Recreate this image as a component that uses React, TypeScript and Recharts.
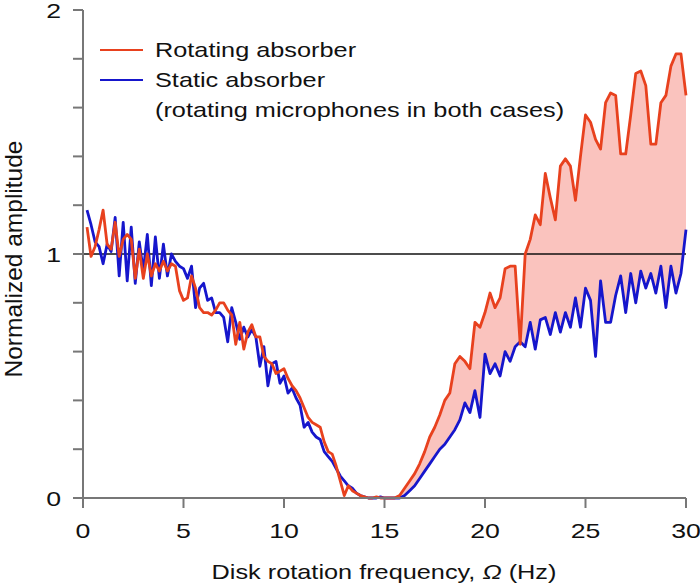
import React from "react";
import { ComposedChart, Line, Area, XAxis, YAxis, ReferenceLine } from "recharts";

// Disk rotation frequency (Hz)
const freq: number[] = [
  0.2, 0.4, 0.6, 0.8, 1.0, 1.2, 1.4, 1.6, 1.8, 2.0, 2.2, 2.4, 2.6, 2.8, 3.0, 3.2, 3.4, 3.6, 3.8, 4.0,
  4.2, 4.4, 4.6, 4.8, 5.0, 5.2, 5.4, 5.6, 5.8, 6.0, 6.2, 6.4, 6.6, 6.8, 7.0, 7.2, 7.4, 7.6, 7.8, 8.0,
  8.2, 8.4, 8.6, 8.8, 9.0, 9.2, 9.4, 9.6, 9.8, 10.0, 10.2, 10.4, 10.6, 10.8, 11.0, 11.2, 11.4, 11.6, 11.8, 12.0,
  12.2, 12.4, 12.6, 12.8, 13.0, 13.2, 13.4, 13.6, 13.8, 14.0, 14.2, 14.4, 14.6, 14.8, 15.0,
  15.25, 15.5, 15.75, 16.0, 16.25, 16.5, 16.75, 17.0, 17.25, 17.5, 17.75, 18.0, 18.25, 18.5, 18.75, 19.0,
  19.25, 19.5, 19.75, 20.0, 20.25, 20.5, 20.75, 21.0, 21.25, 21.5, 21.75, 22.0, 22.25, 22.5, 22.75, 23.0,
  23.25, 23.5, 23.75, 24.0, 24.25, 24.5, 24.75, 25.0, 25.25, 25.5, 25.75, 26.0, 26.25, 26.5, 26.75, 27.0,
  27.25, 27.5, 27.75, 28.0, 28.25, 28.5, 28.75, 29.0, 29.25, 29.5, 29.75, 30.0,
];

// Rotating absorber (red)
const rotating: number[] = [
  1.11, 0.99, 1.03, 1.10, 1.18, 1.04, 1.02, 1.13, 0.99, 1.06, 1.08, 1.06, 0.90, 1.02, 0.90, 1.00, 0.91, 0.96, 0.93, 0.97,
  0.93, 0.96, 0.95, 0.85, 0.81, 0.82, 0.91, 0.86, 0.78, 0.76, 0.76, 0.75, 0.77, 0.80, 0.80, 0.77, 0.75, 0.63, 0.72, 0.61,
  0.68, 0.71, 0.66, 0.66, 0.58, 0.56, 0.55, 0.51, 0.52, 0.53, 0.49, 0.46, 0.44, 0.41, 0.37, 0.33, 0.31, 0.30, 0.29, 0.23,
  0.19, 0.18, 0.13, 0.07, 0.01, 0.05, 0.03, 0.02, 0.01, 0.005, 0.0, 0.0, 0.005, 0.0, 0.0,
  0.0, 0.0, 0.01, 0.04, 0.07, 0.10, 0.14, 0.19, 0.25, 0.29, 0.34, 0.40, 0.43, 0.55, 0.58, 0.56,
  0.53, 0.72, 0.70, 0.76, 0.84, 0.78, 0.82, 0.94, 0.95, 0.95, 0.63, 1.00, 1.06, 1.16, 1.12, 1.33,
  1.23, 1.14, 1.36, 1.39, 1.36, 1.22, 1.40, 1.57, 1.54, 1.47, 1.43, 1.62, 1.66, 1.65, 1.41, 1.41,
  1.57, 1.74, 1.75, 1.69, 1.45, 1.45, 1.62, 1.65, 1.77, 1.82, 1.82, 1.65,
];

// Static absorber (blue)
const staticAbs: number[] = [
  1.18, 1.12, 1.05, 1.03, 0.96, 1.04, 1.01, 1.15, 0.91, 1.13, 0.89, 1.11, 0.88, 1.05, 0.93, 1.08, 0.87, 1.07, 0.90, 1.04,
  0.91, 1.00, 0.97, 0.95, 0.94, 0.90, 0.95, 0.78, 0.86, 0.88, 0.81, 0.82, 0.76, 0.76, 0.74, 0.64, 0.78, 0.72, 0.65, 0.70,
  0.66, 0.69, 0.66, 0.54, 0.62, 0.46, 0.55, 0.56, 0.47, 0.50, 0.43, 0.45, 0.41, 0.38, 0.29, 0.31, 0.27, 0.25, 0.24, 0.19,
  0.17, 0.15, 0.12, 0.09, 0.07, 0.05, 0.04, 0.02, 0.01, 0.005, 0.0, 0.0, 0.0, 0.005, 0.0,
  0.0, 0.0, 0.0, 0.01, 0.03, 0.05, 0.08, 0.11, 0.14, 0.17, 0.20, 0.22, 0.25, 0.28, 0.32, 0.39,
  0.35, 0.44, 0.33, 0.59, 0.51, 0.55, 0.50, 0.60, 0.56, 0.62, 0.64, 0.62, 0.72, 0.61, 0.73, 0.74,
  0.67, 0.76, 0.68, 0.76, 0.70, 0.82, 0.70, 0.86, 0.81, 0.58, 0.89, 0.72, 0.72, 0.83, 0.91, 0.76,
  0.92, 0.80, 0.93, 0.86, 0.92, 0.84, 0.95, 0.78, 0.95, 0.84, 0.92, 1.10,
];

const xTicks: number[] = [0, 5, 10, 15, 20, 25, 30];
const yTicks: number[] = [0, 0.2, 0.4, 0.6, 0.8, 1.0, 1.2, 1.4, 1.6, 1.8, 2.0];
const yLabels: number[] = [0, 1, 2];
const bandStart = 15.5;

const RED = "#e8411e";
const BLUE = "#1616cc";
const PINK = "#fac3be";
const AXIS = "#777777";
const FONT = "'Liberation Sans', Arial, Helvetica, sans-serif";
const SX = 1.27;

const data = freq.map((x, i) => ({
  x,
  r: rotating[i],
  s: staticAbs[i],
  band: x >= bandStart ? [staticAbs[i], rotating[i]] : null,
}));

const XTick = (props: any) => {
  const { x, y, payload } = props;
  return (
    <text
      transform={`translate(${x},${y + 28}) scale(${SX},1)`}
      textAnchor="middle"
      fontSize={21}
      fontFamily={FONT}
      fill="#111"
    >
      {payload.value}
    </text>
  );
};

const YTick = (props: any) => {
  const { x, y, payload } = props;
  const v = Math.round(payload.value * 10) / 10;
  if (!yLabels.includes(v)) return <g />;
  return (
    <text
      transform={`translate(${x - 10},${y + 8}) scale(${SX},1)`}
      textAnchor="end"
      fontSize={21}
      fontFamily={FONT}
      fill="#111"
    >
      {v}
    </text>
  );
};

export default function App() {
  return (
    <div style={{ position: "absolute", left: 0, top: 0, width: 700, height: 587, background: "#fff" }}>
      <ComposedChart width={700} height={587} data={data} margin={{ top: 10, right: 14, left: 0, bottom: 0 }}>
        <XAxis
          dataKey="x"
          type="number"
          domain={[0, 30]}
          ticks={xTicks}
          height={89}
          tickSize={10}
          axisLine={{ stroke: AXIS, strokeWidth: 2 }}
          tickLine={{ stroke: AXIS, strokeWidth: 2 }}
          tick={<XTick />}
          interval={0}
        />
        <YAxis
          type="number"
          domain={[0, 2]}
          ticks={yTicks}
          width={83}
          tickSize={10}
          axisLine={{ stroke: AXIS, strokeWidth: 2 }}
          tickLine={{ stroke: AXIS, strokeWidth: 2 }}
          tick={<YTick />}
          interval={0}
        />
        <Area
          dataKey="band"
          stroke="none"
          fill={PINK}
          fillOpacity={1}
          isAnimationActive={false}
          dot={false}
          activeDot={false}
        />
        <ReferenceLine y={1} stroke="#111" strokeWidth={1.5} />
        <Line dataKey="s" stroke={BLUE} strokeWidth={2.8} dot={false} isAnimationActive={false} strokeLinejoin="round" />
        <Line dataKey="r" stroke={RED} strokeWidth={2.8} dot={false} isAnimationActive={false} strokeLinejoin="round" />
      </ComposedChart>
      <svg
        width={700}
        height={587}
        style={{ position: "absolute", left: 0, top: 0, pointerEvents: "none" }}
        fontFamily={FONT}
      >
        <line x1={100} x2={143} y1={50} y2={50} stroke={RED} strokeWidth={2.2} />
        <text transform={`translate(155,57) scale(1.265,1)`} fontSize={20} fill="#111">
          Rotating absorber
        </text>
        <line x1={100} x2={143} y1={80} y2={80} stroke={BLUE} strokeWidth={2.2} />
        <text transform={`translate(155,87) scale(1.265,1)`} fontSize={20} fill="#111">
          Static absorber
        </text>
        <text transform={`translate(155,117) scale(1.265,1)`} fontSize={20} fill="#111">
          (rotating microphones in both cases)
        </text>
        <text transform={`translate(384,579) scale(1.265,1)`} fontSize={20} fill="#111" textAnchor="middle">
          Disk rotation frequency, <tspan fontStyle="italic">Ω</tspan> (Hz)
        </text>
        <text
          transform={`translate(22,259) rotate(-90)`}
          fontSize={24.5}
          fill="#111"
          textAnchor="middle"
        >
          Normalized amplitude
        </text>
      </svg>
    </div>
  );
}
